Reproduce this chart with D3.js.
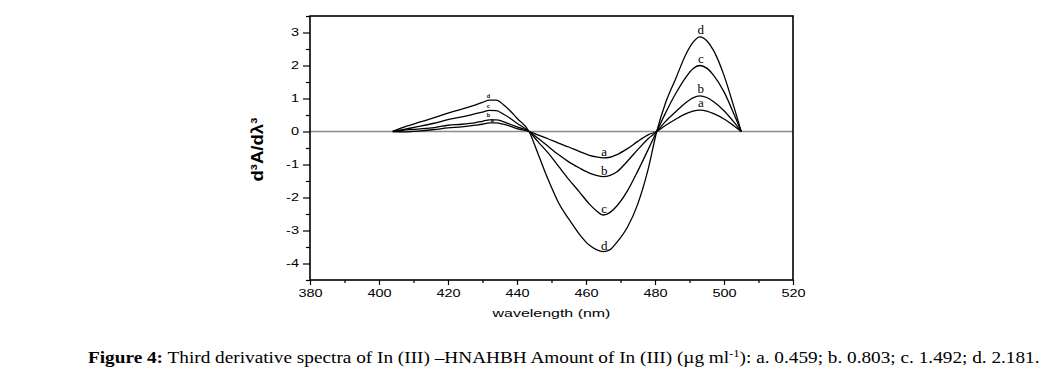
<!DOCTYPE html>
<html>
<head>
<meta charset="utf-8">
<script src="https://cdn.jsdelivr.net/npm/d3@7"></script>
<style>
body{margin:0;background:#fff;}
</style>
</head>
<body>
<div id="plot"></div>
<script>
// data (third derivative, d3A/dλ3)
var wavelength = [404, 408, 412, 416, 420, 424, 428, 430, 432, 434, 436, 438, 440, 443.5,
	446, 449, 452, 455, 458, 461, 463, 465, 467, 469, 472, 475, 478, 480.5,
	483, 486, 489, 491, 493, 495, 497, 500, 503, 505];

var seriesA = [0, -0.01, 0.02, 0.06, 0.11, 0.14, 0.19, 0.22, 0.26, 0.26, 0.22, 0.16, 0.09, 0,
	-0.1, -0.22, -0.35, -0.47, -0.6, -0.72, -0.77, -0.8, -0.78, -0.7, -0.52, -0.3, -0.1, 0,
	0.18, 0.37, 0.54, 0.62, 0.65, 0.62, 0.54, 0.38, 0.16, 0];
var seriesB = [0, 0.05, 0.08, 0.12, 0.19, 0.22, 0.27, 0.31, 0.35, 0.35, 0.3, 0.22, 0.14, 0,
	-0.2, -0.45, -0.7, -0.92, -1.1, -1.26, -1.33, -1.37, -1.33, -1.22, -0.9, -0.55, -0.22, 0,
	0.3, 0.6, 0.88, 1.02, 1.08, 1.03, 0.9, 0.63, 0.27, 0];
var seriesC = [0, 0.08, 0.16, 0.25, 0.36, 0.44, 0.54, 0.59, 0.64, 0.63, 0.53, 0.4, 0.25, 0,
	-0.3, -0.65, -1.05, -1.45, -1.82, -2.2, -2.4, -2.53, -2.45, -2.25, -1.8, -1.2, -0.55, 0,
	0.55, 1.15, 1.65, 1.9, 2.0, 1.92, 1.7, 1.2, 0.5, 0];
var seriesD = [0, 0.16, 0.29, 0.42, 0.56, 0.68, 0.81, 0.88, 0.95, 0.95, 0.82, 0.63, 0.4, 0,
	-0.65, -1.45, -2.15, -2.65, -3.1, -3.45, -3.58, -3.64, -3.58, -3.35, -2.9, -2.2, -1.15, 0,
	0.85, 1.6, 2.35, 2.7, 2.87, 2.75, 2.45, 1.7, 0.7, 0];

var seriesNames = ['a', 'b', 'c', 'd'];
var xTicks = [380, 400, 420, 440, 460, 480, 500, 520];
var yTicks = [-4, -3, -2, -1, 0, 1, 2, 3];

var width = 1054, height = 377;
var margin = {t:16, r:261, b:97, l:310};
var sx = 1.45; // the figure's text is stretched sideways

var svg = d3.select('#plot')
	.append('svg')
	.attr('width', width)
	.attr('height', height)
	.style('font-family', 'Arial, "Liberation Sans", sans-serif');

var x = d3.scaleLinear().domain([380, 520]).range([margin.l, width - margin.r]);
var y = d3.scaleLinear().domain([-4.5, 3.5]).range([height - margin.b, margin.t]);

// zero line
svg.append('line')
	.attr('x1', x(380)).attr('x2', x(520))
	.attr('y1', y(0)).attr('y2', y(0))
	.style('stroke', '#8a8a8a')
	.style('stroke-width', 1.6);

// curves
var line = d3.line()
	.x(function(d){ return x(d[0]); })
	.y(function(d){ return y(d[1]); })
	.curve(d3.curveMonotoneX);

var series = [seriesA, seriesB, seriesC, seriesD].map(function(vals, i){
	return {name: seriesNames[i], values: wavelength.map(function(w, j){ return [w, vals[j]]; })};
});

svg.selectAll('path.curve')
	.data(series)
	.enter()
	.append('path')
	.attr('class', 'curve')
	.attr('d', function(d){ return line(d.values); })
	.style('fill', 'none')
	.style('stroke', '#000')
	.style('stroke-width', 1.3);

// letters on each curve
series.forEach(function(s){
	var left = s.values.filter(function(p){ return p[0] < 443; });
	var mid = s.values.filter(function(p){ return p[0] > 444 && p[0] < 480; });
	var right = s.values.filter(function(p){ return p[0] > 481; });
	var pLeft = d3.greatest(left, function(p){ return p[1]; });
	var pMid = d3.least(mid, function(p){ return p[1]; });
	var pRight = d3.greatest(right, function(p){ return p[1]; });

	// small letters on the left hump; a sits low and to the right so it clears b
	svg.append('text')
		.attr('x', x(pLeft[0]) - 1 + (s.name == 'a' ? 4 : 0))
		.attr('y', y(pLeft[1]) - (s.name == 'a' ? 0.5 : 2.5))
		.attr('text-anchor', 'middle')
		.style('font-size', '5.5px')
		.style('font-weight', 'bold')
		.style('fill', '#000')
		.text(s.name);

	svg.append('text')
		.attr('x', x(pMid[0]) + 1)
		.attr('y', y(pMid[1]) - 2)
		.attr('text-anchor', 'middle')
		.style('font-family', '"Liberation Serif", "Times New Roman", serif')
		.style('font-size', '13px')
		.style('fill', '#000')
		.text(s.name);

	svg.append('text')
		.attr('x', x(pRight[0]) + 1)
		.attr('y', y(pRight[1]) - 3)
		.attr('text-anchor', 'middle')
		.style('font-family', '"Liberation Serif", "Times New Roman", serif')
		.style('font-size', '13px')
		.style('fill', '#000')
		.text(s.name);
});

// axes
var xAxis = svg.append('g')
	.attr('transform', 'translate(0,' + y(-4.5) + ')')
	.call(d3.axisBottom(x).tickValues(xTicks).tickSize(5).tickFormat(function(d){ return String(d); }));
var xMinor = svg.append('g')
	.attr('transform', 'translate(0,' + y(-4.5) + ')')
	.call(d3.axisBottom(x).tickValues(d3.range(390, 520, 20)).tickSize(3).tickFormat(''));
var yAxis = svg.append('g')
	.attr('transform', 'translate(' + x(380) + ',0)')
	.call(d3.axisLeft(y).tickValues(yTicks).tickSize(7).tickFormat(function(d){ return String(d); }));
var yMinor = svg.append('g')
	.attr('transform', 'translate(' + x(380) + ',0)')
	.call(d3.axisLeft(y).tickValues(d3.range(-4.5, 3.6, 1)).tickSize(4).tickFormat(''));

[xAxis, xMinor, yAxis, yMinor].forEach(function(g){
	g.select('.domain').remove();
	g.selectAll('line').style('stroke', '#000').style('stroke-width', 1.2);
});

xAxis.selectAll('text')
	.attr('y', 0).attr('dy', 0)
	.attr('transform', 'translate(0,17) scale(' + sx + ',1)')
	.style('font-size', '10px')
	.style('fill', '#000');
yAxis.selectAll('text')
	.attr('x', 0)
	.attr('transform', 'translate(-11,0) scale(' + sx + ',1)')
	.style('font-size', '10px')
	.style('fill', '#000');

// frame
svg.append('rect')
	.attr('x', x(380)).attr('y', y(3.5))
	.attr('width', x(520) - x(380))
	.attr('height', y(-4.5) - y(3.5))
	.style('fill', 'none')
	.style('stroke', '#000')
	.style('stroke-width', 1.6);

// axis titles
svg.append('text')
	.attr('transform', 'translate(' + ((x(380) + x(520)) / 2) + ',317) scale(' + sx + ',1)')
	.attr('text-anchor', 'middle')
	.style('font-size', '11px')
	.text('wavelength (nm)');

var yLabel = svg.append('text')
	.attr('transform', 'translate(263,' + y(-0.55) + ') rotate(-90) scale(1.55,1.3)')
	.attr('text-anchor', 'middle')
	.style('font-size', '12px')
	.style('font-weight', 'bold');
yLabel.append('tspan').text('d');
yLabel.append('tspan').attr('dy', -5).style('font-size', '7px').text('3');
yLabel.append('tspan').attr('dy', 5).text('A/dλ');
yLabel.append('tspan').attr('dy', -5).style('font-size', '7px').text('3');

// caption
var cap = svg.append('text')
	.attr('x', 88)
	.attr('y', 363)
	.style('font-family', '"Liberation Serif", "Times New Roman", serif')
	.style('font-size', '17px');
cap.append('tspan').style('font-weight', 'bold').text('Figure 4:');
cap.append('tspan').text(' Third derivative spectra of In (III) \u2013HNAHBH Amount of In (III) (\u00b5g ml');
cap.append('tspan').attr('dy', -6).style('font-size', '11px').text('-1');
cap.append('tspan').attr('dy', 6).text('): a. 0.459; b. 0.803; c. 1.492; d. 2.181.');

var capLen = cap.node().getComputedTextLength();
var capScale = (1040 - 88) / capLen;
cap.attr('x', 0).attr('y', 0)
	.attr('transform', 'translate(88,363) scale(' + capScale + ',1)');
</script>
</body>
</html>
